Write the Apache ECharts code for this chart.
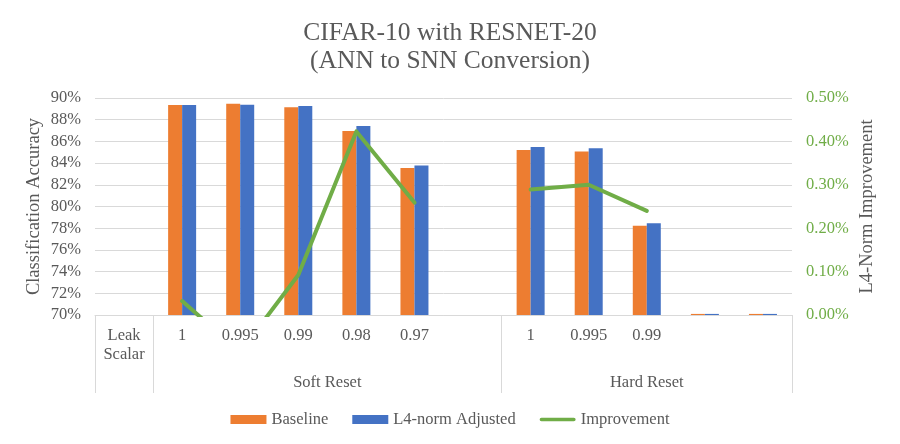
<!DOCTYPE html>
<html>
<head>
<meta charset="utf-8">
<script src="https://cdn.jsdelivr.net/npm/echarts@6/dist/echarts.min.js"></script>
<style>
  html, body { margin: 0; padding: 0; background: #fff; }
  #chart { width: 900px; height: 444px; }
</style>
</head>
<body>
<div id="chart"></div>
<script>
// categories: first slot is the row header, then Soft Reset (6 slots) and Hard Reset (5 slots)
const categories = ['Leak\nScalar', '1', '0.995', '0.99', '0.98', '0.97', '', '1', '0.995', '0.99', '', '']
const groupLabels = { 3.5: 'Soft Reset', 9: 'Hard Reset' } // centre of each group, in category units
const tickBoundaries = [0, 1, 7] // separators of the two-level axis

// values in %
const baseline = [null, 89.35, 89.48, 89.14, 86.95, 83.54, null, 85.2, 85.08, 78.22, 70.1, 70.1]
const l4Adjusted = [null, 89.35, 89.38, 89.26, 87.42, 83.78, null, 85.48, 85.38, 78.46, 70.1, 70.1]
const improvement = [null, 0.032, -0.085, 0.092, 0.423, 0.259, null, 0.289, 0.3, 0.24, null, null]

const FONT = 'Liberation Serif'
const GREY = '#595959'
const GRID_LINE = '#D9D9D9'

const chart = echarts.init(document.getElementById('chart'))

const option = {
  backgroundColor: '#fff',
  animation: false,
  textStyle: { fontFamily: FONT, color: GREY },
  title: {
    text: 'CIFAR-10 with RESNET-20\n(ANN to SNN Conversion)',
    left: 'center',
    top: 14,
    textStyle: { fontFamily: FONT, fontSize: 25.5, fontWeight: 'normal', color: GREY, lineHeight: 28 }
  },
  grid: { left: 95, right: 108, top: 98, bottom: 129 },
  legend: {
    bottom: 11,
    left: 'center',
    itemWidth: 36,
    itemHeight: 9,
    itemGap: 24,
    textStyle: { fontFamily: FONT, fontSize: 16.5, color: GREY },
    data: [
      { name: 'Baseline', icon: 'rect' },
      { name: 'L4-norm Adjusted', icon: 'rect' },
      // plain thick line, no marker
      { name: 'Improvement', icon: 'path://M2,0L38,0A2,2,0,0,1,38,4L2,4A2,2,0,0,1,2,0Z' }
    ]
  },
  xAxis: [
    {
      type: 'category',
      data: categories,
      axisLine: { lineStyle: { color: GRID_LINE, width: 1 } },
      axisTick: {
        show: true,
        length: 78,
        inside: false,
        interval: (i) => tickBoundaries.includes(i),
        lineStyle: { color: GRID_LINE, width: 1 }
      },
      axisLabel: {
        interval: 0,
        margin: 11,
        fontFamily: FONT,
        fontSize: 16.5,
        lineHeight: 19,
        color: GREY
      }
    },
    {
      // second level of the category axis: group names
      type: 'value',
      position: 'bottom',
      min: -0.5,
      max: 11.5,
      interval: 0.5,
      axisLine: { show: false },
      axisTick: { show: false },
      splitLine: { show: false },
      axisLabel: {
        margin: 59,
        fontFamily: FONT,
        fontSize: 16.5,
        color: GREY,
        showMinLabel: true,
        showMaxLabel: true,
        formatter: (v) => groupLabels[v] || ''
      }
    }
  ],
  yAxis: [
    {
      type: 'value',
      min: 70,
      max: 90,
      interval: 2,
      name: 'Classification Accuracy',
      nameLocation: 'middle',
      nameRotate: 90,
      nameGap: 51,
      nameMoveOverlap: false,
      nameTextStyle: { fontFamily: FONT, fontSize: 18.5, color: GREY },
      axisLine: { show: false },
      axisTick: { show: false },
      splitLine: { lineStyle: { color: GRID_LINE, width: 1 } },
      axisLabel: { margin: 14, fontFamily: FONT, fontSize: 16.5, color: GREY, formatter: '{value}%' }
    },
    {
      type: 'value',
      min: 0,
      max: 0.5,
      interval: 0.1,
      position: 'right',
      name: 'L4-Norm Improvement',
      nameLocation: 'middle',
      nameRotate: 90,
      nameGap: 66,
      nameMoveOverlap: false,
      nameTextStyle: { fontFamily: FONT, fontSize: 18.5, color: GREY },
      axisLine: { show: false },
      axisTick: { show: false },
      splitLine: { show: false },
      axisLabel: {
        margin: 14,
        fontFamily: FONT,
        fontSize: 16.5,
        color: '#70AD47',
        formatter: (v) => v.toFixed(2) + '%'
      }
    }
  ],
  series: [
    {
      name: 'Baseline',
      type: 'bar',
      data: baseline,
      barWidth: 14,
      barGap: '0%',
      itemStyle: { color: '#ED7D31' }
    },
    {
      name: 'L4-norm Adjusted',
      type: 'bar',
      data: l4Adjusted,
      barWidth: 14,
      barGap: '0%',
      itemStyle: { color: '#4472C4' }
    },
    {
      name: 'Improvement',
      type: 'line',
      yAxisIndex: 1,
      data: improvement,
      symbol: 'none',
      clip: true,
      lineStyle: { color: '#70AD47', width: 4, cap: 'round', join: 'round' },
      itemStyle: { color: '#70AD47' }
    }
  ]
}

chart.setOption(option)
</script>
</body>
</html>
